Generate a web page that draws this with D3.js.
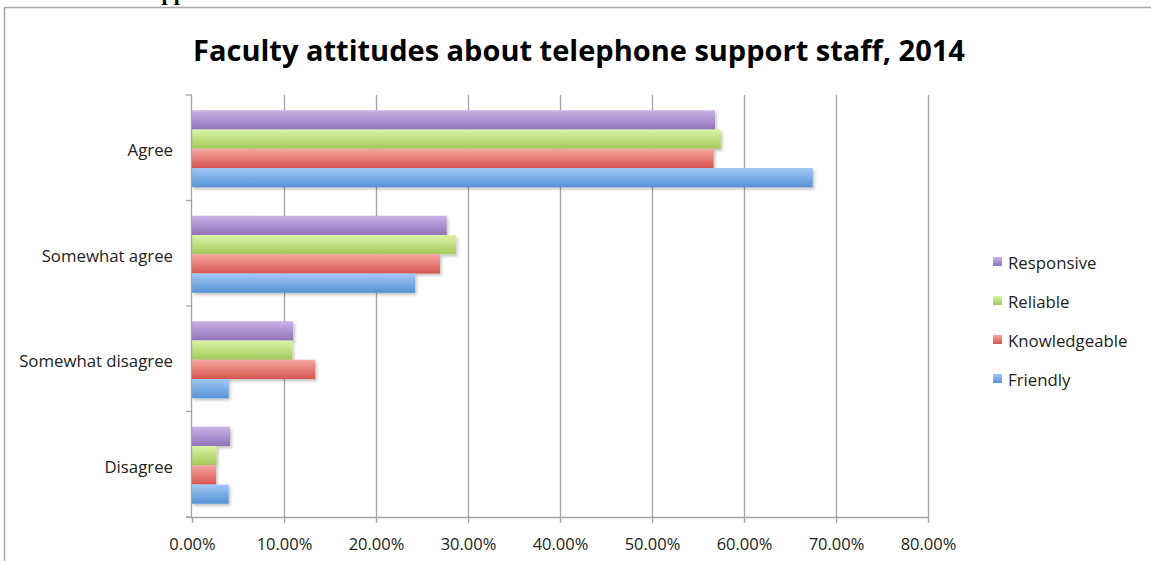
<!DOCTYPE html>
<html>
<head>
<meta charset="utf-8">
<script src="https://cdn.jsdelivr.net/npm/d3@7"></script>
<style>
  html, body { margin: 0; padding: 0; background: #fff; }
  svg { display: block; }
</style>
</head>
<body>
<svg id="chart" width="1151" height="561"></svg>
<script>
// Response categories (top to bottom) and the attributes rated for each
const categories = ["Agree", "Somewhat agree", "Somewhat disagree", "Disagree"];
const seriesNames = ["Responsive", "Reliable", "Knowledgeable", "Friendly"];

// Share of faculty per category, one array per attribute
const responsive    = [0.5685, 0.2768, 0.1100, 0.0413];
const reliable      = [0.5747, 0.2870, 0.1090, 0.0268];
const knowledgeable = [0.5670, 0.2696, 0.1340, 0.0261];
const friendly      = [0.6747, 0.2424, 0.0399, 0.0399];

const tickValues = [0, 0.1, 0.2, 0.3, 0.4, 0.5, 0.6, 0.7, 0.8];

const seriesValues = [responsive, reliable, knowledgeable, friendly];
const palette = {
  Responsive:    ["#c9b3e6", "#8f72bb"],
  Reliable:      ["#dcf3a6", "#a3c95a"],
  Knowledgeable: ["#f7a7a2", "#d6554d"],
  Friendly:      ["#a2c9f6", "#5592d4"]
};

const svg = d3.select("#chart");
const font = "'Open Sans', 'Noto Sans', sans-serif";

// Frame around the chart area
svg.append("line").attr("x1", 5).attr("x2", 1151).attr("y1", 7.5).attr("y2", 7.5)
  .attr("stroke", "#a6a6a6").attr("stroke-width", 1.5);
svg.append("line").attr("x1", 4.5).attr("x2", 4.5).attr("y1", 7).attr("y2", 561)
  .attr("stroke", "#a6a6a6").attr("stroke-width", 1.5);

// Bottom edge of the page heading above the chart
svg.append("text").attr("x", 137).attr("y", -0.5)
  .attr("font-family", "'Liberation Serif', serif").attr("font-weight", "bold")
  .attr("font-size", 22).attr("fill", "#000").text("Support");

const defs = svg.append("defs");
seriesNames.forEach(name => {
  const g = defs.append("linearGradient").attr("id", "grad-" + name)
    .attr("x1", 0).attr("y1", 0).attr("x2", 0).attr("y2", 1);
  g.append("stop").attr("offset", "0%").attr("stop-color", palette[name][0]);
  g.append("stop").attr("offset", "100%").attr("stop-color", palette[name][1]);
});
const shadow = defs.append("filter").attr("id", "shadow")
  .attr("x", "-5%").attr("y", "-20%").attr("width", "115%").attr("height", "160%");
shadow.append("feDropShadow").attr("dx", 1.5).attr("dy", 2).attr("stdDeviation", 1.5)
  .attr("flood-color", "#000").attr("flood-opacity", 0.25);

const plot = { left: 192, right: 928, top: 95, bottom: 517 };

const x = d3.scaleLinear().domain([0, 0.8]).range([plot.left, plot.right]);
const y = d3.scaleBand().domain(categories).range([plot.top, plot.bottom])
  .paddingInner(0.27).paddingOuter(0.135);
const ySeries = d3.scaleBand().domain(seriesNames).range([0, y.bandwidth()]);

// Title
svg.append("text").attr("x", 579).attr("y", 61).attr("text-anchor", "middle")
  .attr("font-family", font).attr("font-weight", "bold").attr("font-size", 29)
  .attr("fill", "#000").text("Faculty attitudes about telephone support staff, 2014");

// Vertical gridlines
svg.append("g").selectAll("line").data(tickValues.slice(1)).join("line")
  .attr("x1", d => x(d) + 0.5).attr("x2", d => x(d) + 0.5)
  .attr("y1", plot.top).attr("y2", plot.bottom)
  .attr("stroke", "#a3a3a3").attr("stroke-width", 1.3);

// Bars
const groups = svg.append("g").selectAll("g").data(categories).join("g")
  .attr("transform", d => `translate(0,${y(d) + 1})`);
groups.selectAll("rect")
  .data((c, i) => seriesNames.map((s, j) => ({ series: s, value: seriesValues[j][i] })))
  .join("rect")
  .attr("x", x(0))
  .attr("y", d => ySeries(d.series))
  .attr("width", d => x(d.value) - x(0))
  .attr("height", ySeries.bandwidth())
  .attr("fill", d => `url(#grad-${d.series})`)
  .attr("filter", "url(#shadow)");

// Category axis
const yAxis = svg.append("g").attr("transform", `translate(${plot.left},0)`);
yAxis.append("line").attr("x1", -0.5).attr("x2", -0.5).attr("y1", plot.top).attr("y2", plot.bottom)
  .attr("stroke", "#a3a3a3").attr("stroke-width", 1.3);
const boundaries = categories.map(c => y(c) - y.step() * y.paddingInner() / 2).concat([plot.bottom]);
yAxis.selectAll("line.tick").data(boundaries).join("line").attr("class", "tick")
  .attr("x1", -6).attr("x2", 0).attr("y1", d => d).attr("y2", d => d)
  .attr("stroke", "#a3a3a3").attr("stroke-width", 1.3);
yAxis.selectAll("text").data(categories).join("text")
  .attr("x", -19).attr("y", d => y(d) + y.bandwidth() / 2 + 4)
  .attr("text-anchor", "end").attr("dominant-baseline", "middle")
  .attr("font-family", font).attr("font-size", 16.8).attr("fill", "#222")
  .text(d => d);

// Value axis
const xAxis = svg.append("g").attr("transform", `translate(0,${plot.bottom})`)
  .call(d3.axisBottom(x).tickValues(tickValues).tickFormat(d3.format(".2%"))
    .tickSize(6).tickPadding(15));
xAxis.select(".domain").attr("stroke", "#a3a3a3").attr("stroke-width", 1.3)
  .attr("d", `M${plot.left - 6},0.5H${plot.right + 1}`);
xAxis.selectAll(".tick line").attr("stroke", "#a3a3a3").attr("stroke-width", 1.3);
xAxis.selectAll(".tick text").attr("font-family", font).attr("font-size", 16.5).attr("fill", "#222");

// Legend
const legend = svg.append("g").selectAll("g").data(seriesNames).join("g")
  .attr("transform", (d, i) => `translate(993,${262 + i * 39})`);
legend.append("rect").attr("x", 0).attr("y", -5).attr("width", 9).attr("height", 9)
  .attr("fill", d => `url(#grad-${d})`);
legend.append("text").attr("x", 15).attr("y", 2).attr("dominant-baseline", "middle")
  .attr("font-family", font).attr("font-size", 16.8).attr("fill", "#222").text(d => d);
</script>
</body>
</html>
